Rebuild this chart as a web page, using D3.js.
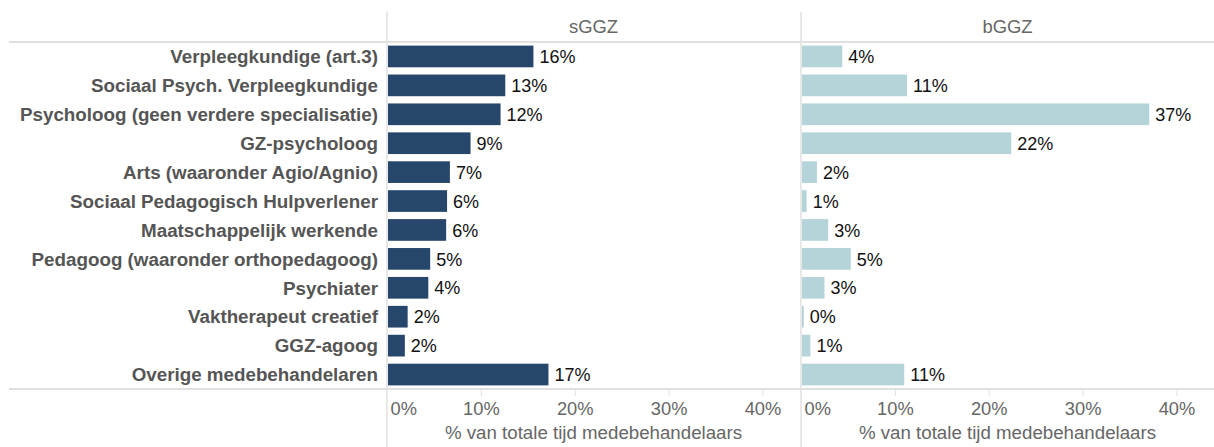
<!DOCTYPE html>
<html>
<head>
<meta charset="utf-8">
<script src="https://cdn.jsdelivr.net/npm/d3@7"></script>
<style>
  body { margin: 0; background: #fff; }
  svg { font-family: "Liberation Sans", Arial, sans-serif; }
</style>
</head>
<body>
<div id="chart"></div>
<script>
const categories = [
  "Verpleegkundige (art.3)",
  "Sociaal Psych. Verpleegkundige",
  "Psycholoog (geen verdere specialisatie)",
  "GZ-psycholoog",
  "Arts (waaronder Agio/Agnio)",
  "Sociaal Pedagogisch Hulpverlener",
  "Maatschappelijk werkende",
  "Pedagoog (waaronder orthopedagoog)",
  "Psychiater",
  "Vaktherapeut creatief",
  "GGZ-agoog",
  "Overige medebehandelaren"
];
const panels = ["sGGZ", "bGGZ"];
const sGGZ = [0.156, 0.126, 0.121, 0.089, 0.067, 0.064, 0.063, 0.046, 0.044, 0.022, 0.019, 0.172];
const bGGZ = [0.044, 0.113, 0.371, 0.224, 0.017, 0.006, 0.029, 0.053, 0.025, 0.003, 0.010, 0.110];
const tickValues = [0, 0.1, 0.2, 0.3, 0.4];
const axisTitle = "% van totale tijd medebehandelaars";

const width = 1214, height = 447;
const colors = { sGGZ: "#27466b", bGGZ: "#b5d4d9" };
const grid = "#e0e0e0";
const panelLeft = [387, 801];
const panelWidth = 413;
const plotTop = 42, plotBottom = 389;

const svg = d3.select("#chart").append("svg")
  .attr("width", width).attr("height", height);

const yScale = d3.scaleBand()
  .domain(categories)
  .range([plotTop, plotBottom])
  .paddingInner(0.25)
  .paddingOuter(0.125);

const xScale = d3.scaleLinear()
  .domain([0, 0.44])
  .range([0, panelWidth]);

const fmt = d3.format(".0%");

// grid lines
svg.append("line").attr("x1", 9).attr("x2", width).attr("y1", plotTop).attr("y2", plotTop)
  .attr("stroke", grid).attr("stroke-width", 2);
svg.append("line").attr("x1", 9).attr("x2", width).attr("y1", plotBottom).attr("y2", plotBottom)
  .attr("stroke", grid).attr("stroke-width", 2);
panelLeft.forEach(function (x) {
  svg.append("line").attr("x1", x).attr("x2", x).attr("y1", 12).attr("y2", height)
    .attr("stroke", grid).attr("stroke-width", 1.5);
});

// category labels
svg.selectAll(".cat")
  .data(categories)
  .enter()
  .append("text")
  .attr("class", "cat")
  .attr("x", 378)
  .attr("y", (d) => yScale(d) + yScale.bandwidth() / 2)
  .attr("dy", "0.36em")
  .attr("text-anchor", "end")
  .attr("font-size", "18.8px")
  .attr("font-weight", "bold")
  .attr("fill", "#555")
  .text((d) => d);

const seriesData = { sGGZ: sGGZ, bGGZ: bGGZ };

panels.forEach(function (name, i) {
  const g = svg.append("g").attr("transform", `translate(${panelLeft[i]}, 0)`);
  const values = seriesData[name];

  g.append("text")
    .attr("x", panelWidth / 2)
    .attr("y", 33)
    .attr("text-anchor", "middle")
    .attr("font-size", "18.4px")
    .attr("fill", "#666")
    .text(name);

  g.selectAll("rect")
    .data(values)
    .enter()
    .append("rect")
    .attr("x", xScale(0) + 1)
    .attr("y", (d, j) => yScale(categories[j]))
    .attr("width", (d) => Math.max(0, xScale(d) - 1))
    .attr("height", yScale.bandwidth())
    .attr("fill", colors[name]);

  g.selectAll(".val")
    .data(values)
    .enter()
    .append("text")
    .attr("class", "val")
    .attr("x", (d) => xScale(d) + 6)
    .attr("y", (d, j) => yScale(categories[j]) + yScale.bandwidth() / 2)
    .attr("dy", "0.37em")
    .attr("font-size", "18px")
    .attr("fill", "#111")
    .text((d) => fmt(d));

  const axis = g.append("g")
    .attr("transform", `translate(0, ${plotBottom + 1})`)
    .call(d3.axisBottom(xScale).tickValues(tickValues).tickFormat(fmt).tickSize(6).tickPadding(6));
  axis.select(".domain").remove();
  axis.selectAll(".tick line").attr("stroke", grid);
  axis.selectAll(".tick text")
    .attr("font-size", "18.3px")
    .attr("font-family", "'Liberation Sans', Arial, sans-serif")
    .attr("fill", "#666");
  axis.selectAll(".tick").filter((d) => d === 0).select("text")
    .attr("text-anchor", "start").attr("x", 3);
  axis.selectAll(".tick").filter((d) => d === 0).select("line").remove();

  g.append("text")
    .attr("x", panelWidth / 2)
    .attr("y", 439)
    .attr("text-anchor", "middle")
    .attr("font-size", "18.7px")
    .attr("fill", "#666")
    .text(axisTitle);
});
</script>
</body>
</html>
